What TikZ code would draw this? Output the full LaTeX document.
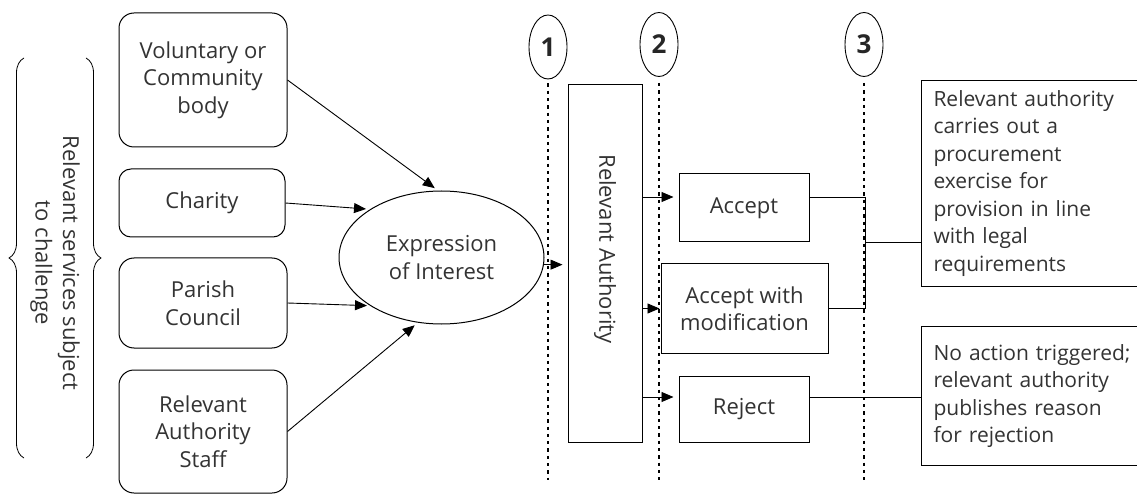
\documentclass[tikz,border=0pt]{standalone}
\usepackage{fontspec}
\setmainfont{Open Sans}
\usetikzlibrary{arrows.meta,shapes.geometric,decorations.pathreplacing,calc}
\begin{document}
\begin{tikzpicture}[x=1pt,y=-1pt,
  every node/.style={font=\fontsize{22}{27.5}\selectfont, text=black!80},
  rbox/.style={draw, rounded corners=15pt, line width=1pt, inner sep=0pt, align=center},
  sbox/.style={draw, line width=1pt, inner sep=0pt, align=center},
  outbox/.style={draw, line width=1pt, anchor=north west, inner ysep=0pt, inner xsep=12pt, text width=240pt, align=left, font=\fontsize{21}{27.5}\selectfont},
  arr/.style={-{Triangle[length=12pt,width=10pt]}, line width=0.9pt, shorten >=5pt},
  conn/.style={line width=0.9pt},
  dotline/.style={line width=2.6pt, dash pattern=on 3.3pt off 4pt},
  numc/.style={draw, ellipse, line width=0.9pt, minimum width=38pt, minimum height=64pt, inner sep=0pt, font=\fontsize{26}{28}\selectfont\bfseries, text=black!85}]
\useasboundingbox (0,0) rectangle (1137,494);
\clip (0,0) rectangle (1137,494);

% brace and label
\draw[conn, line width=0.8pt, decorate, decoration={brace, amplitude=15pt}] (24,458) -- (24,58);
\draw[conn, line width=0.8pt, decorate, decoration={brace, amplitude=15pt}] (86,58) -- (86,458);
\node[rotate=-90, align=center] (chal) at (55,263) {Relevant services subject\\to challenge};

% source boxes
\node[rbox, minimum width=168pt, minimum height=134pt] (vol) at (203,80) {Voluntary or\\Community\\body};
\node[rbox, rounded corners=12pt, minimum width=166pt, minimum height=68pt] (cha) at (202,203) {Charity};
\node[rbox, minimum width=168pt, minimum height=90pt] (par) at (203,303) {Parish\\Council};
\node[rbox, minimum width=168pt, minimum height=123pt] (sta) at (203,431.5) {Relevant\\Authority\\Staff};

% expression of interest
\node[draw, ellipse, line width=1pt, minimum width=205pt, minimum height=133pt, inner sep=0pt, align=center] (eoi) at (441.5,257.5) {Expression\\of Interest};

\draw[arr, shorten >=4pt] (vol.east) -- (eoi.93);
\draw[arr, shorten >=4pt] (cha.east) -- (eoi.146);
\draw[arr, shorten >=3pt] (par.east) -- (eoi.214);
\draw[arr, shorten >=4pt] (sta.east) -- (eoi.250);

% number markers and dotted lines
\node[numc] (n1) at (548,47) {1};
\node[numc] (n2) at (659,44.5) {2};
\node[numc] (n3) at (864,44.5) {3};
\coordinate (b1) at (548,480);
\coordinate (b2) at (659,480);
\coordinate (b3) at (864,480);
\draw[dotline] ([yshift=-4pt]n1.south) -- (b1);
\draw[dotline] ([yshift=-6pt]n2.south) -- (b2);
\draw[dotline] ([yshift=-6pt]n3.south) -- (b3);

% relevant authority
\node[sbox, minimum width=74pt, minimum height=357pt] (ra) at (605,263.5) {\rotatebox{-90}{Relevant Authority\hspace{29pt}}};
\draw[arr] (eoi.-4) -- (ra.west |- eoi.-4);

% decisions
\node[sbox, fill=white, minimum width=130pt, minimum height=68pt] (acc) at (744,208) {Accept};
\node[sbox, fill=white, minimum width=167pt, minimum height=89pt] (mod) at (744.5,308.5) {Accept with\\modification};
\node[sbox, fill=white, minimum width=130pt, minimum height=66pt] (rej) at (744,409) {Reject};

\path (acc.west) ++(0,-11) coordinate (accin);
\path (acc.east) ++(0,-11) coordinate (accout);
\path (rej.west) ++(0,-12) coordinate (rejin);
\path (rej.east) ++(0,-12) coordinate (rejout);
\draw[arr] (ra.east |- accin) -- (accin);
\draw[arr, shorten >=1pt] (ra.east |- mod.west) -- (mod.west);
\draw[arr] (ra.east |- rejin) -- (rejin);

% outcomes
\node[outbox, minimum height=206pt] (proc) at (921,80) {Relevant authority\\carries out a\\procurement\\exercise for\\provision in line\\with legal\\requirements};
\node[outbox, minimum height=139pt] (noact) at (921,326) {No action triggered;\\relevant authority\\publishes reason\\for rejection};

\coordinate (jx) at (865,242);
\draw[conn] (accout) -- (accout -| jx) -- (mod.east -| jx) -- (mod.east);
\draw[conn] (jx) -- (jx -| proc.west);
\draw[conn] (rejout) -- (rejout -| noact.west);
\end{tikzpicture}
\end{document}
